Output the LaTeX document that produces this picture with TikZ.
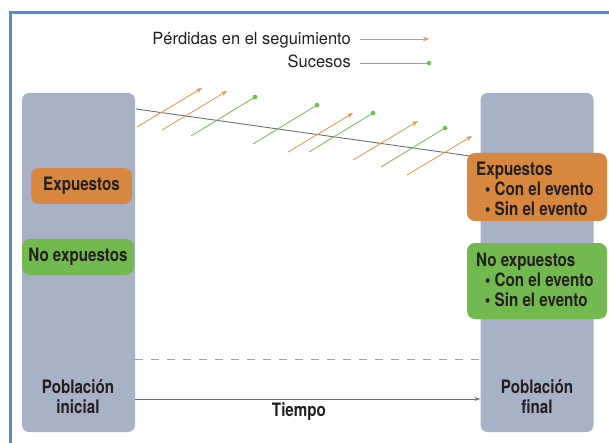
\documentclass[tikz,border=0pt]{standalone}
\usepackage{fontspec}
\setmainfont{TeX Gyre Heros}
\newfontfamily\legfont{TeX Gyre Heros}[FakeStretch=0.98]
\newfontfamily\cnfont{TeX Gyre Heros}[FakeStretch=0.82]
\usetikzlibrary{arrows.meta}
\definecolor{colbg}{RGB}{168,177,198}
\definecolor{orbox}{RGB}{216,135,62}
\definecolor{grbox}{RGB}{116,185,79}
\definecolor{frameblue}{RGB}{74,142,214}
\definecolor{txt}{RGB}{35,31,32}
\definecolor{orarrow}{RGB}{227,150,75}
\definecolor{grline}{RGB}{108,191,78}
\definecolor{tline}{RGB}{110,111,115}
\tikzset{
  column/.style={fill=colbg, draw=none, rounded corners=7pt, minimum width=113pt, minimum height=339pt, inner sep=0pt},
  lbl/.style={font=\cnfont\bfseries\fontsize{18.5}{19.8}\selectfont, text=txt, inner sep=0pt, align=center},
  obox/.style={fill=orbox, rounded corners=8pt, inner sep=0pt},
  gbox/.style={fill=grbox, rounded corners=8pt, inner sep=0pt},
  leg/.style={font=\legfont\fontsize{16.8}{18}\selectfont, text=txt, inner sep=0pt, anchor=east},
  loss/.style={orarrow, line width=0.8pt, -{Stealth[length=6pt,width=4.5pt]}},
  event/.style={grline, line width=0.8pt},
}
\begin{document}
\begin{tikzpicture}[x=1pt,y=-1pt]
\useasboundingbox (0,0) rectangle (609,443);
% frame
\draw[frameblue, line width=3pt] (10.5,443) -- (10.5,12.5) -- (609,12.5);
% columns
\node[column] (lcol) at (78.5,262.5) {};
\node[column] (rcol) at (537,262.5) {};
% legend
\node[leg] (lleg) at (351,40) {Pérdidas en el seguimiento};
\node[leg] (sleg) at (351,61.5) {Sucesos};
\coordinate (la) at (360,39); \coordinate (lb) at (429,39);
\coordinate (sa) at (360,63); \coordinate (sb) at (429,63);
\draw[loss] (la) -- (lb);
\draw[event] (sa) -- (sb);
\fill[grline] (sb) circle (2.2pt);
% timeline
\coordinate (t0) at (136,109);
\coordinate (t1) at (470,156);
\draw[tline, line width=0.9pt] (t0) -- (t1);
% losses
\foreach \x/\y in {137/127, 162/130, 288/152, 353/160, 407/175}
  \draw[loss] (\x,\y) -- ++(65,-39);
% events
\foreach \x/\y in {191/136, 253/144, 309/152, 381/167}
  {\draw[event] (\x,\y) -- ++(64,-39);
   \fill[grline] (\x+64,\y-39) circle (2.3pt);}
% left boxes
\node[obox, minimum width=101pt, minimum height=36pt] (lexp) at (81.5,186) {};
\node[lbl] (lexpt) at (lexp.center) {Expuestos};
\node[gbox, minimum width=112pt, minimum height=36pt] (lnoexp) at (78,257) {};
\node[lbl] (lnoexpt) at (lnoexp.center) {No expuestos};
% right boxes
\node[obox, minimum width=140pt, minimum height=68pt] (rexp) at (537,187) {};
\node[lbl, align=left, anchor=west] (rexpt) at (476,189) {Expuestos\\\hspace*{9pt}\textbullet\ Con el evento\\\hspace*{9pt}\textbullet\ Sin el evento};
\node[gbox, minimum width=140pt, minimum height=76pt] (rnoexp) at (537,281) {};
\node[lbl, align=left, anchor=west] (rnoexpt) at (476,280) {No expuestos\\\hspace*{9pt}\textbullet\ Con el evento\\\hspace*{9pt}\textbullet\ Sin el evento};
% bottom
\node[lbl] (pini) at (78,397) {Población\\inicial};
\node[lbl] (pfin) at (537,397) {Población\\final};
\draw[gray!75, line width=0.9pt, dash pattern=on 8pt off 8pt] (lcol.east |- 0,359) -- (rcol.west |- 0,359);
\draw[tline, line width=0.9pt, -{Stealth[length=6pt,width=4pt]}] (lcol.east |- 0,399) -- (rcol.west |- 0,399);
\node[lbl] (tiempo) at (299,412) {Tiempo};
\end{tikzpicture}
\end{document}
